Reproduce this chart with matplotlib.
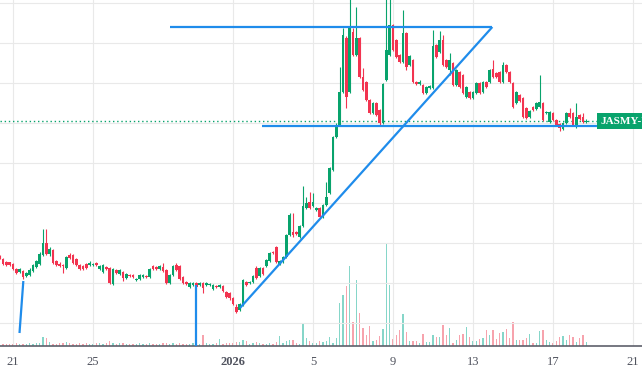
import matplotlib.pyplot as plt
import numpy as np
import pandas as pd

# 4h candles of JASMY-USD, starting 2025-12-20 08:00
# prices in 1e-5 USD, volume in millions
start = pd.Timestamp("2025-12-20 08:00")
step = pd.Timedelta(hours=4)

open_ = [747, 744, 741, 741, 739, 734, 731, 732, 727, 728, 732, 736, 739, 748, 760, 749, 753, 742, 739, 738,
         735, 748, 748, 744, 738, 737, 739, 738, 738, 740, 734, 731, 736, 735, 719, 733, 729, 731, 725, 728,
         728, 723, 724, 726, 727, 726, 737, 736, 734, 736, 733, 720, 728, 738, 737, 726, 721, 716, 718, 720,
         718, 720, 718, 718, 714, 717, 716, 717, 711, 710, 705, 696, 693, 698, 721, 720, 721, 735, 727, 735,
         737, 742, 751, 756, 739, 741, 746, 768, 771, 771, 766, 777, 795, 801, 797, 793, 795, 786, 798, 810,
         833, 866, 878, 911, 965, 911, 971, 948, 965, 926, 921, 903, 890, 900, 893, 880, 923, 948, 978, 963,
         948, 941, 970, 938, 943, 921, 919, 918, 910, 915, 915, 958, 951, 963, 943, 933, 940, 918, 931, 928,
         906, 911, 905, 910, 920, 911, 921, 921, 934, 930, 931, 921, 938, 931, 920, 900, 908, 905, 895, 886,
         896, 894, 896, 900, 890, 881, 890, 883, 879, 874, 880, 890, 890, 876, 888, 886, 881]
high = [748, 745, 742, 741, 740, 735, 735, 733, 731, 735, 739, 743, 751, 774, 774, 756, 754, 743, 741, 739,
        747, 750, 749, 745, 739, 738, 740, 742, 740, 741, 738, 739, 737, 736, 735, 734, 734, 732, 730, 729,
        729, 725, 729, 729, 728, 735, 738, 737, 738, 740, 734, 729, 738, 740, 738, 727, 722, 721, 721, 721,
        721, 721, 721, 720, 719, 718, 719, 718, 712, 711, 706, 699, 700, 724, 722, 722, 728, 737, 736, 736,
        744, 751, 752, 757, 743, 747, 769, 790, 790, 772, 778, 817, 806, 811, 810, 796, 796, 799, 821, 836,
        867, 880, 936, 975, 967, 1005, 975, 996, 966, 935, 922, 904, 901, 901, 894, 920, 1005, 1005, 979, 964,
        949, 993, 971, 948, 944, 922, 923, 919, 917, 918, 973, 959, 972, 968, 944, 950, 941, 934, 932, 929,
        917, 912, 912, 921, 921, 922, 922, 934, 943, 931, 932, 941, 939, 932, 921, 912, 909, 906, 896, 893,
        897, 901, 928, 901, 892, 892, 891, 884, 880, 881, 891, 895, 891, 900, 889, 890, 884]
low = [744, 738, 737, 737, 733, 729, 730, 724, 726, 727, 731, 735, 738, 747, 748, 747, 739, 737, 736, 730,
       734, 744, 739, 737, 733, 733, 734, 737, 737, 737, 733, 730, 733, 719, 718, 729, 728, 722, 724, 726,
       725, 722, 723, 725, 725, 725, 733, 733, 733, 731, 719, 719, 727, 732, 723, 719, 718, 715, 717, 715,
       717, 710, 717, 717, 713, 715, 715, 711, 705, 703, 698, 690, 692, 697, 717, 719, 720, 724, 726, 728,
       736, 741, 749, 740, 738, 740, 745, 767, 766, 768, 765, 776, 794, 794, 796, 792, 785, 785, 797, 809,
       832, 865, 877, 910, 895, 910, 947, 947, 925, 912, 902, 889, 889, 887, 878, 879, 922, 947, 952, 945,
       940, 940, 933, 937, 920, 918, 918, 909, 909, 914, 914, 945, 950, 937, 935, 928, 917, 917, 915, 909,
       905, 904, 904, 909, 909, 910, 915, 920, 925, 925, 920, 920, 930, 920, 895, 899, 901, 885, 884, 885,
       892, 893, 895, 882, 889, 880, 882, 877, 872, 873, 879, 885, 877, 875, 883, 880, 880]
close = [745, 739, 738, 738, 734, 730, 734, 726, 730, 733, 738, 742, 749, 760, 749, 754, 740, 738, 737, 737,
         746, 745, 740, 738, 734, 734, 735, 740, 739, 738, 737, 738, 734, 720, 734, 730, 733, 725, 729, 727,
         726, 724, 728, 728, 726, 734, 734, 734, 737, 732, 720, 728, 737, 733, 724, 720, 719, 720, 720, 716,
         720, 715, 720, 719, 718, 716, 718, 712, 706, 705, 699, 691, 699, 723, 718, 721, 727, 725, 735, 729,
         743, 750, 750, 741, 742, 746, 768, 788, 768, 769, 777, 797, 800, 795, 801, 795, 786, 798, 806, 835,
         866, 878, 911, 968, 906, 976, 948, 965, 926, 913, 903, 890, 900, 888, 880, 919, 953, 978, 953, 946,
         941, 970, 936, 947, 921, 919, 921, 910, 916, 917, 957, 946, 963, 938, 936, 943, 918, 933, 916, 910,
         916, 905, 911, 920, 910, 921, 916, 933, 926, 926, 921, 938, 931, 921, 896, 911, 902, 886, 885, 892,
         893, 900, 901, 883, 891, 891, 883, 878, 875, 880, 890, 886, 878, 886, 884, 881, 882]
volume = [3, 2, 2, 2, 2, 3, 2, 2, 2, 3, 2, 3, 3, 9, 8, 4, 2, 2, 3, 3,
          4, 3, 2, 2, 3, 2, 3, 2, 2, 3, 3, 2, 3, 5, 3, 2, 3, 3, 2, 2,
          2, 2, 3, 2, 2, 3, 2, 2, 2, 3, 3, 2, 3, 2, 3, 2, 2, 2, 3, 2,
          2, 11, 3, 2, 2, 3, 7, 2, 3, 3, 3, 4, 4, 6, 5, 2, 3, 4, 3, 2,
          2, 3, 2, 4, 10, 3, 5, 6, 6, 3, 2, 23, 8, 5, 3, 3, 5, 4, 5, 9,
          3, 8, 43, 51, 60, 80, 24, 66, 33, 18, 11, 20, 5, 6, 10, 17, 102, 61, 7, 11,
          16, 32, 14, 5, 5, 5, 3, 12, 4, 4, 11, 9, 9, 21, 11, 18, 3, 6, 11, 12,
          19, 9, 5, 5, 7, 8, 16, 11, 16, 7, 13, 14, 17, 8, 24, 6, 6, 6, 8, 12,
          3, 3, 15, 16, 6, 4, 3, 5, 9, 10, 6, 11, 9, 4, 8, 11, 4]

tick_days = ["2025-12-21", "2025-12-25", "2026-01-01", "2026-01-05",
             "2026-01-09", "2026-01-13", "2026-01-17", "2026-01-21"]
tick_labels = ["21", "25", "2026", "5", "9", "13", "17", "21"]

# hand drawn trend lines (bar index, price)
top_line = ([51.1, 147.8], [976, 976])
rise_line = ([72.1, 147.8], [695, 976])
base_line = ([78.7, 179.2], [877, 877])
left_stub = ([5.95, 7.1], [670, 722])
mid_stub = ([58.9, 58.9], [657, 718])

green = "#08a36c"
red = "#f23450"
vol_up = "#86d6c9"
vol_down = "#f7a3ad"
blue = "#1f8ceb"

o = np.array(open_)
h = np.array(high)
l = np.array(low)
c = np.array(close)
v = np.array(volume)
x = np.arange(len(c))
up = c >= o
cols = np.where(up, green, red)
vcols = np.where(up, vol_up, vol_down)

ticks = [(pd.Timestamp(d) - start) / step for d in tick_days]

fig = plt.figure(figsize=(6.42, 3.70), dpi=100)
ax = fig.add_axes([0, 24 / 370, 1, 346 / 370])
vax = ax.twinx()
ax.set_zorder(vax.get_zorder() + 1)
ax.patch.set_visible(False)

vax.bar(x, v, width=0.33, color=vcols, linewidth=0)
vax.set_ylim(0, 346)
vax.axis("off")

ax.vlines(x, l, h, colors=cols, lw=0.8, zorder=3)
ax.bar(x, np.maximum(np.abs(c - o), 1), bottom=np.minimum(o, c), width=0.72,
       color=cols, linewidth=0, zorder=4)

ax.hlines(c[-1], 0, 179.2, colors=green, linestyles=(0, (1, 2)), lw=1, zorder=2)

for xs, ys in [top_line, rise_line, base_line, left_stub, mid_stub]:
    ax.plot(xs, ys, color=blue, lw=1.6, zorder=5, solid_capstyle="butt")

# price tag on the right edge, cut off by the frame like the original
ax.text(180.3, c[-1], "JASMY-USD", color="white", fontweight="bold",
        family="Liberation Serif", fontsize=8, va="center", ha="left", zorder=6,
        bbox=dict(boxstyle="square,pad=0.3", fc=green, ec="none"))

ax.set_xlim(0.1, 192.7)
ax.set_ylim(657, 1003)
ax.set_xticks(ticks, tick_labels)
ax.set_yticks(np.arange(680, 1001, 40))
ax.grid(True, color="#e9e9e9", lw=0.8)
ax.set_axisbelow(True)
ax.tick_params(axis="x", length=0, pad=7, labelsize=9, labelcolor="#50535e")
ax.tick_params(axis="y", left=False, labelleft=False)
for t in ax.get_xticklabels():
    t.set_family("Liberation Serif")
ax.get_xticklabels()[2].set_fontweight("bold")
for s in ["top", "left", "right"]:
    ax.spines[s].set_visible(False)
ax.spines["bottom"].set_color("#5d606b")
ax.spines["bottom"].set_linewidth(1.2)

fig.savefig("out.png", dpi=100)
